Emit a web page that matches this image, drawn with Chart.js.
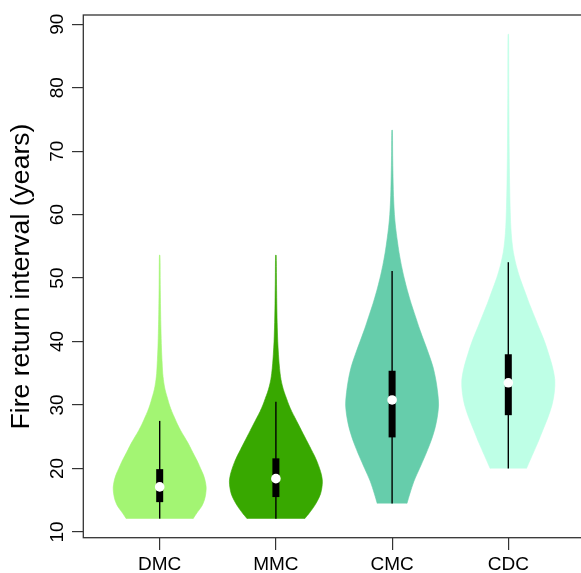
<!DOCTYPE html>
<html>
<head>
<meta charset="utf-8">
<script src="https://cdn.jsdelivr.net/npm/chart.js@4/dist/chart.umd.min.js"></script>
<style>
html, body { margin: 0; padding: 0; overflow: hidden; background: #fff; }
canvas { display: block; }
</style>
</head>
<body>
<canvas id="c" width="600" height="573"></canvas>
<script>
// ---- data ----
const categories = ['DMC', 'MMC', 'CMC', 'CDC'];
const yTickValues = [10, 20, 30, 40, 50, 60, 70, 80, 90];
const yTitle = 'Fire return interval (years)';

const minimum       = [12.1, 12.1, 14.5, 20.0];
const lowerQuartile = [14.7, 15.5, 24.9, 28.4];
const median        = [17.1, 18.4, 30.8, 33.5];
const upperQuartile = [19.9, 21.6, 35.4, 38.0];
const upperWhisker  = [27.5, 30.5, 51.1, 52.5];

// [value, relative density]
const dmcDensity = [[12.1,0.72],[13,0.80],[14,0.90],[15,0.96],[16,0.99],[17,1.00],[18,0.98],[19,0.94],[20,0.88],[21,0.82],[22,0.75],[23,0.68],[24,0.61],[25,0.53],[26,0.45],[27,0.38],[28,0.32],[29,0.26],[30,0.21],[31,0.17],[32,0.13],[33,0.10],[34,0.08],[35,0.065],[37,0.05],[39,0.038],[42,0.027],[45,0.019],[49,0.012],[53.6,0.006]];
const mmcDensity = [[12.1,0.62],[13,0.72],[14,0.82],[15,0.90],[16,0.96],[17,0.99],[18,1.00],[19,0.98],[20,0.94],[21,0.89],[22,0.83],[23,0.76],[24,0.69],[25,0.62],[26,0.55],[27,0.48],[28,0.41],[29,0.34],[30,0.28],[31,0.23],[32,0.18],[33,0.14],[34,0.11],[35,0.09],[36.5,0.07],[38,0.055],[40,0.04],[43,0.027],[46,0.019],[50,0.012],[53.6,0.006]];
const cmcDensity = [[14.5,0.32],[16,0.38],[18,0.47],[20,0.59],[22,0.71],[24,0.82],[26,0.91],[28,0.97],[30,1.00],[32,0.98],[34,0.94],[36,0.88],[38,0.79],[40,0.69],[42,0.59],[44,0.50],[46,0.41],[48,0.33],[50,0.26],[52,0.20],[54,0.15],[56,0.11],[58,0.075],[60,0.05],[63,0.03],[67,0.017],[70,0.011],[73.3,0.006]];
const cdcDensity = [[20,0.39],[22,0.51],[24,0.63],[26,0.74],[28,0.85],[30,0.94],[32,0.99],[34,1.00],[36,0.95],[38,0.87],[40,0.78],[42,0.67],[44,0.56],[46,0.45],[48,0.35],[50,0.25],[52,0.17],[54,0.11],[56,0.075],[58,0.055],[61,0.04],[65,0.028],[70,0.019],[75,0.014],[80,0.01],[88.4,0.006]];

const densities = [dmcDensity, mmcDensity, cmcDensity, cdcDensity];

// ---- styles ----
const fillColors = ['#A3F573', '#38A800', '#66CDAB', '#BEFFE6'];
const halfWidth = 0.4;  // max half width of a violin, in category units
const FONT = '"Liberation Sans", Arial, Helvetica, sans-serif';

const datasets = [];
densities.forEach((dens, i) => {
  const cx = i + 1;
  const right = dens.map(([v, d]) => ({ x: cx + halfWidth * d, y: v }));
  const left = dens.slice().reverse().map(([v, d]) => ({ x: cx - halfWidth * d, y: v }));
  datasets.push({
    type: 'line', data: right.concat(left), fill: 'shape',
    backgroundColor: fillColors[i], borderColor: fillColors[i], borderWidth: 0.6,
    pointRadius: 0, tension: 0.3, order: 10
  });
  datasets.push({
    type: 'line', data: [{ x: cx, y: minimum[i] }, { x: cx, y: upperWhisker[i] }],
    borderColor: '#000', borderWidth: 1.4, pointRadius: 0, fill: false, order: 5
  });
  datasets.push({
    type: 'line', data: [{ x: cx, y: lowerQuartile[i] }, { x: cx, y: upperQuartile[i] }],
    borderColor: '#000', borderWidth: 7, borderCapStyle: 'butt', pointRadius: 0, fill: false, order: 3
  });
});
datasets.push({
  type: 'scatter', data: median.map((m, i) => ({ x: i + 1, y: m })),
  pointRadius: 4.8, pointBackgroundColor: '#fff', pointBorderWidth: 0, borderColor: '#fff', order: 1
});

const frame = {
  id: 'frame',
  afterDatasetsDraw(chart) {
    const { ctx, chartArea: a } = chart;
    ctx.save();
    ctx.strokeStyle = '#333';
    ctx.lineWidth = 1.3;
    ctx.strokeRect(a.left + 0.3, a.top, a.right - a.left, a.bottom - a.top - 0.3);
    ctx.restore();
  }
};

const yLabels = {
  id: 'yLabels',
  afterDraw(chart) {
    const s = chart.scales.y, ctx = chart.ctx;
    ctx.save();
    ctx.font = '19px ' + FONT;
    ctx.fillStyle = '#000';
    ctx.textAlign = 'center';
    ctx.textBaseline = 'alphabetic';
    yTickValues.forEach(v => {
      const y = s.getPixelForValue(v);
      ctx.save();
      ctx.translate(62.5, y);
      ctx.rotate(-Math.PI / 2);
      ctx.fillText(String(v), 0, 0);
      ctx.restore();
    });
    ctx.restore();
  }
};

new Chart(document.getElementById('c'), {
  type: 'scatter',
  data: { datasets },
  options: {
    responsive: false,
    animation: false,
    events: [],
    layout: { padding: { top: 15, right: 15, left: 0, bottom: 0 } },
    plugins: { legend: { display: false }, tooltip: { enabled: false } },
    scales: {
      x: {
        type: 'linear', min: 0.34, max: 4.66,
        afterBuildTicks: s => { s.ticks = categories.map((c, i) => ({ value: i + 1 })); },
        ticks: {
          callback: v => categories[Math.round(v) - 1],
          font: { family: FONT, size: 19 }, color: '#000', padding: 3.5,
          maxRotation: 0, minRotation: 0, autoSkip: false
        },
        grid: { drawOnChartArea: false, drawTicks: true, tickLength: 12, color: '#333', lineWidth: 1.2 },
        border: { display: false },
        afterFit: s => { s.height = 35; }
      },
      y: {
        type: 'linear', min: 9.05, max: 91.45,
        afterBuildTicks: s => { s.ticks = yTickValues.map(v => ({ value: v })); },
        ticks: { display: false },
        grid: { drawOnChartArea: false, drawTicks: true, tickLength: 11, color: '#333', lineWidth: 1.2 },
        border: { display: false },
        title: {
          display: true, text: yTitle, color: '#000',
          font: { family: FONT, size: 26.6 }, padding: { top: 6, bottom: 0 }
        },
        afterFit: s => { s.width = 83; }
      }
    }
  },
  plugins: [frame, yLabels]
});
</script>
</body>
</html>
